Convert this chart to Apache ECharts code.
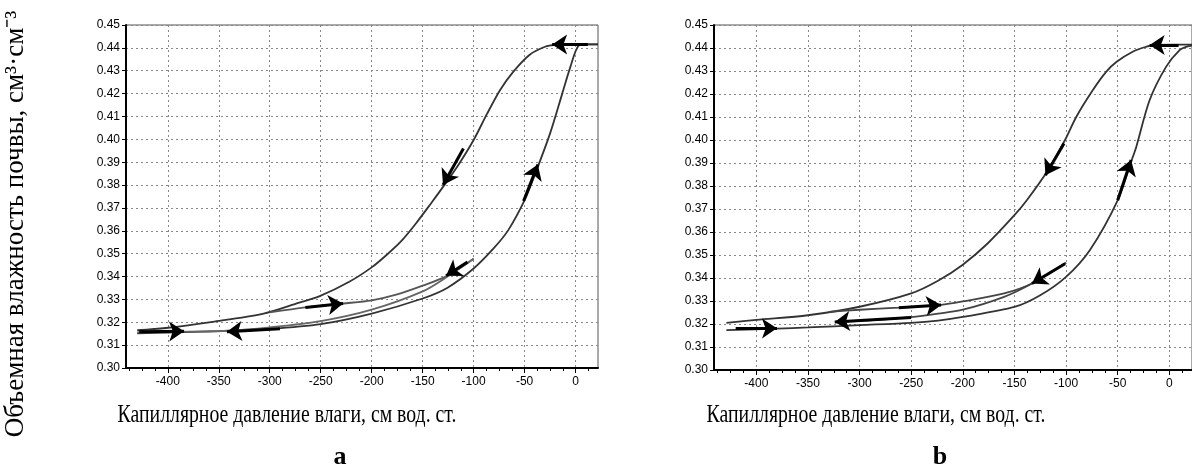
<!DOCTYPE html>
<html>
<head>
<meta charset="utf-8">
<script src="https://cdn.jsdelivr.net/npm/echarts@6/dist/echarts.min.js"></script>
<style>
html, body { margin: 0; padding: 0; background: #fff; }
#chart { width: 1192px; height: 473px; }
</style>
</head>
<body>
<div id="chart"></div>
<script>
// tick labels
const xTicks = [-400, -350, -300, -250, -200, -150, -100, -50, 0]
const xMinor = [-437.5, -425, -412.5, -387.5, -375, -362.5, -337.5, -325, -312.5, -287.5, -275, -262.5,
  -237.5, -225, -212.5, -187.5, -175, -162.5, -137.5, -125, -112.5, -87.5, -75, -62.5, -37.5, -25, -12.5, 12.5]

// panel a: [pressure, water content]
const aDrying = [[22, 0.4415], [0, 0.4415], [-20, 0.4413], [-30, 0.4405], [-45, 0.437], [-61, 0.4296], [-74, 0.4216],
  [-87, 0.411], [-100, 0.3997], [-115, 0.3888], [-130, 0.3792], [-141, 0.3725], [-157, 0.363], [-172, 0.355],
  [-186, 0.3492], [-200, 0.344], [-222, 0.3377], [-251, 0.3314], [-271, 0.3286], [-306, 0.3238], [-356, 0.3202],
  [-402, 0.3175], [-430, 0.3165]]
const aWetting = [[-430, 0.3152], [-400, 0.3155], [-350, 0.3161], [-300, 0.3171], [-250, 0.3192], [-200, 0.3238],
  [-150, 0.3304], [-126, 0.335], [-100, 0.3435], [-80, 0.3525], [-66, 0.3603], [-50, 0.3734], [-40, 0.3845],
  [-25, 0.4026], [-13, 0.4201], [-5, 0.4318], [3, 0.441], [10, 0.4415], [22, 0.4415]]
const aScanWet = [[-300, 0.3243], [-265, 0.3265], [-228, 0.3282], [-200, 0.3296], [-175, 0.3322], [-150, 0.336],
  [-126, 0.3403], [-100, 0.3478]]
const aScanDry = [[-100, 0.3478], [-126, 0.3399], [-150, 0.3335], [-200, 0.3255], [-250, 0.3205], [-300, 0.3178],
  [-342, 0.3163], [-390, 0.3158], [-430, 0.3156]]
const aArrows = [
  [[12, 0.4415], [-23, 0.4415]],
  [[-110, 0.396], [-130, 0.38]],
  [[-51, 0.373], [-37, 0.389]],
  [[-265, 0.3265], [-228, 0.3282]],
  [[-106, 0.3464], [-127, 0.3403]],
  [[-290, 0.3172], [-342, 0.3158]],
  [[-428, 0.3158], [-384, 0.3161]]
]

// panel b
const bDrying = [[22, 0.4415], [0, 0.4415], [-15, 0.4413], [-22, 0.4406], [-35, 0.4385], [-51, 0.434], [-61, 0.4297],
  [-74, 0.4217], [-90, 0.4101], [-101, 0.4], [-118, 0.3865], [-138, 0.3738], [-150, 0.3673], [-176, 0.355],
  [-200, 0.3458], [-224, 0.3388], [-250, 0.3333], [-300, 0.3275], [-350, 0.3238], [-400, 0.3218], [-429, 0.3205]]
const bWetting = [[-429, 0.3173], [-380, 0.318], [-350, 0.3185], [-300, 0.3195], [-250, 0.3205], [-224, 0.3215],
  [-200, 0.3231], [-150, 0.3274], [-125, 0.3325], [-100, 0.3405], [-77, 0.3521], [-50, 0.3738], [-37, 0.3905],
  [-32, 0.397], [-19, 0.4174], [-3, 0.4319], [10, 0.4391], [17, 0.4406], [22, 0.441]]
const bScanWet = [[-330, 0.3253], [-300, 0.3262], [-262, 0.3271], [-221, 0.3283], [-200, 0.3298], [-160, 0.3333],
  [-133, 0.3376], [-100, 0.3466]]
const bScanDry = [[-100, 0.3466], [-133, 0.3376], [-160, 0.3318], [-200, 0.3262], [-224, 0.3245], [-250, 0.323],
  [-290, 0.3216], [-324, 0.3209]]
const bArrows = [
  [[9, 0.4413], [-19, 0.4413]],
  [[-102, 0.3985], [-120, 0.3847]],
  [[-50, 0.3738], [-37, 0.3913]],
  [[-262, 0.3271], [-221, 0.3283]],
  [[-101, 0.3462], [-133, 0.3376]],
  [[-250, 0.3228], [-324, 0.3209]],
  [[-420, 0.318], [-380, 0.3181]]
]

const tickFont = { fontFamily: 'Liberation Sans', fontSize: 12, color: '#000' }
const dotted = { show: true, lineStyle: { color: '#888', width: 1, type: [2, 3] } }

function xAxisMain (grid) {
  return {
    gridIndex: grid, type: 'value', min: -441, max: 22,
    axisLine: { onZero: false, lineStyle: { color: '#000', width: 2 } },
    axisTick: { customValues: xTicks, length: 5, lineStyle: { color: '#000' } },
    axisLabel: Object.assign({ customValues: xTicks, margin: 8 }, tickFont),
    splitLine: dotted
  }
}
function xAxisMinor (grid) {
  return {
    gridIndex: grid, type: 'value', min: -441, max: 22, position: 'bottom',
    axisLine: { show: false },
    axisTick: { customValues: xMinor, length: 3, lineStyle: { color: '#000' } },
    axisLabel: { show: false },
    splitLine: { show: false }
  }
}
function yAxis (grid) {
  return {
    gridIndex: grid, type: 'value', min: 0.30, max: 0.45, interval: 0.01,
    axisLine: { onZero: false, lineStyle: { color: '#000', width: 2 } },
    axisTick: { length: 4, lineStyle: { color: '#000' } },
    axisLabel: Object.assign({ margin: 6, formatter: v => v.toFixed(2) }, tickFont),
    splitLine: dotted
  }
}
function curve (data, grid, color) {
  return {
    type: 'line', data: data, xAxisIndex: grid * 2, yAxisIndex: grid,
    smooth: 0.3, showSymbol: false, silent: true,
    lineStyle: { color: color, width: 1.8 }
  }
}
function arrows (list, grid) {
  return {
    type: 'lines', coordinateSystem: 'cartesian2d', xAxisIndex: grid * 2, yAxisIndex: grid,
    z: 5, silent: true,
    symbol: ['none', 'arrow'], symbolSize: 15,
    lineStyle: { color: '#000', width: 3, opacity: 1 },
    itemStyle: { color: '#000' },
    data: list.map(c => ({ coords: c }))
  }
}

const chart = echarts.init(document.getElementById('chart'))
const option = {
  backgroundColor: '#fff',
  animation: false,
  grid: [
    { left: 126, top: 25, width: 472, height: 343, show: true, borderColor: '#555', borderWidth: 1 },
    { left: 714, top: 25, width: 482, height: 345, show: true, borderColor: '#555', borderWidth: 1 }
  ],
  xAxis: [xAxisMain(0), xAxisMinor(0), xAxisMain(1), xAxisMinor(1)],
  yAxis: [yAxis(0), yAxis(1)],
  series: [
    curve(aDrying, 0, '#333'),
    curve(aWetting, 0, '#333'),
    curve(aScanWet, 0, '#555'),
    curve(aScanDry, 0, '#666'),
    arrows(aArrows, 0),
    curve(bDrying, 1, '#333'),
    curve(bWetting, 1, '#333'),
    curve(bScanWet, 1, '#444'),
    curve(bScanDry, 1, '#444'),
    arrows(bArrows, 1)
  ],
  graphic: [
    {
      type: 'text', x: 16, y: 224, rotation: Math.PI / 2,
      style: { text: 'Объемная влажность почвы, см³·см⁻³', font: '27px "Liberation Serif"', fill: '#000', textAlign: 'center', textVerticalAlign: 'middle' }
    },
    {
      type: 'text', x: 287, y: 415, scaleX: 0.76,
      style: { text: 'Капиллярное давление влаги, см вод. ст.', font: '26px "Liberation Serif"', fill: '#000', textAlign: 'center', textVerticalAlign: 'middle' }
    },
    {
      type: 'text', x: 876, y: 415, scaleX: 0.76,
      style: { text: 'Капиллярное давление влаги, см вод. ст.', font: '26px "Liberation Serif"', fill: '#000', textAlign: 'center', textVerticalAlign: 'middle' }
    },
    {
      type: 'text', x: 340, y: 457,
      style: { text: 'a', font: 'bold 26px "Liberation Serif"', fill: '#000', textAlign: 'center', textVerticalAlign: 'middle' }
    },
    {
      type: 'text', x: 940, y: 457,
      style: { text: 'b', font: 'bold 26px "Liberation Serif"', fill: '#000', textAlign: 'center', textVerticalAlign: 'middle' }
    }
  ]
}
chart.setOption(option)
</script>
</body>
</html>
